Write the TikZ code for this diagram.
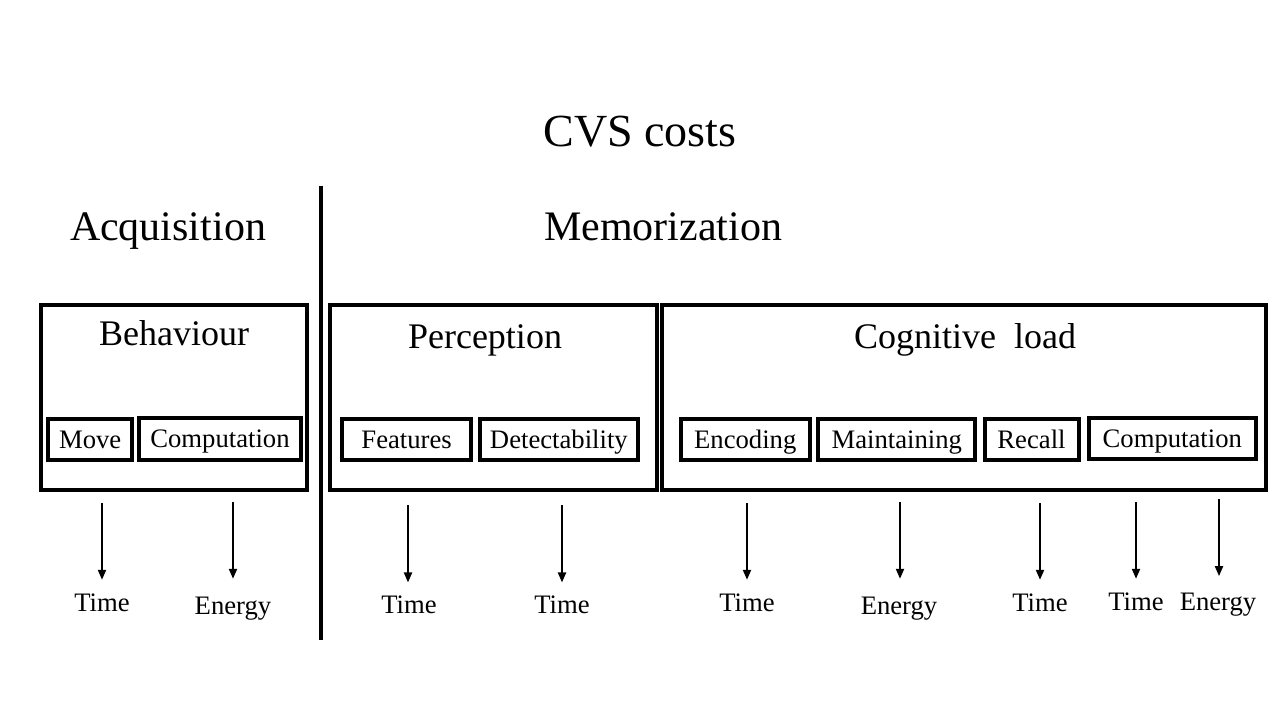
\documentclass[tikz,border=0pt]{standalone}
\usepackage{fontspec}
\setmainfont{Liberation Serif}
\usetikzlibrary{fit,arrows.meta}
\begin{document}
\begin{tikzpicture}[x=0.75pt,y=-0.75pt,
  bigbox/.style={draw,line width=3pt,inner sep=0pt},
  smallbox/.style={draw,line width=3pt,inner sep=0pt,minimum height=31.3pt,
    font=\rmfamily\fontsize{20}{24}\selectfont,text height=13.2pt,text depth=0pt},
  titletext/.style={anchor=base,inner sep=0pt,font=\rmfamily\fontsize{34.5}{40}\selectfont},
  headtext/.style={anchor=base,inner sep=0pt,font=\rmfamily\fontsize{31.5}{38}\selectfont},
  boxtitle/.style={anchor=base,inner sep=0pt,font=\rmfamily\fontsize{27}{32}\selectfont},
  lab/.style={anchor=base,inner sep=0pt,text height=13.2pt,font=\rmfamily\fontsize{20}{24}\selectfont},
  arr/.style={line width=1.5pt,-{Triangle[length=7.5pt,width=6pt]}},
  divider/.style={line width=2.5pt}]
\useasboundingbox (0,0) rectangle (1280,720);

% titles
\node[titletext] (title) at (640,147) {CVS costs};
\node[headtext] (acq) at (168,241) {Acquisition};
\node[headtext] (mem) at (663,241) {Memorization};

% divider
\coordinate (d1) at (321,186);
\coordinate (d2) at (321,640);
\draw[divider] (d1) -- (d2);

% big boxes
\node[bigbox,fit={(40.5,304.5) (306.5,489.5)}] (beh) {};
\node[bigbox,fit={(329.5,304.5) (656.5,489.5)}] (per) {};
\node[bigbox,fit={(662,304.5) (1266,489.5)}] (cog) {};

\node[boxtitle] (behT) at (174,345) {Behaviour};
\node[boxtitle] (perT) at (485,348) {Perception};
\node[boxtitle] (cogT) at (965,348) {Cognitive\ \ load};

% small boxes
\node[smallbox,minimum width=63.2pt] (move) at (90.15,439.5) {Move};
\node[smallbox,minimum width=121.05pt] (comp1) at (220,438.85) {Computation};
\node[smallbox,minimum width=97pt] (feat) at (406.65,439.6) {Features};
\node[smallbox,minimum width=118.7pt] (det) at (558.85,439.6) {Detectability};
\node[smallbox,minimum width=96.4pt] (enc) at (745.25,439.6) {Encoding};
\node[smallbox,minimum width=118.1pt] (main) at (896.75,439.6) {Maintaining};
\node[smallbox,minimum width=70.5pt] (rec) at (1031.5,439.6) {Recall};
\node[smallbox,minimum width=124.9pt] (comp2) at (1172.25,438.5) {Computation};

% labels
\node[lab] (t1) at (102,611) {Time};
\node[lab] (t2) at (233,614) {Energy};
\node[lab] (t3) at (409,613) {Time};
\node[lab] (t4) at (562,613) {Time};
\node[lab] (t5) at (747,611) {Time};
\node[lab] (t6) at (899,614) {Energy};
\node[lab] (t7) at (1040,611) {Time};
\node[lab] (t8) at (1136,610) {Time};
\node[lab] (t9) at (1218,610) {Energy};

% arrow starts
\coordinate (s1) at (102,503);
\coordinate (s2) at (233,502);
\coordinate (s3) at (408,505);
\coordinate (s4) at (562,505);
\coordinate (s5) at (747,503);
\coordinate (s6) at (900,502);
\coordinate (s7) at (1040,503);
\coordinate (s8) at (1136,502);
\coordinate (s9) at (1219,499);

\draw[arr,shorten >=10pt] (s1) -- (s1 |- t1.north);
\draw[arr,shorten >=13pt] (s2) -- (s2 |- t2.north);
\draw[arr,shorten >=9.5pt] (s3) -- (s3 |- t3.north);
\draw[arr,shorten >=9.5pt] (s4) -- (s4 |- t4.north);
\draw[arr,shorten >=10pt] (s5) -- (s5 |- t5.north);
\draw[arr,shorten >=13pt] (s6) -- (s6 |- t6.north);
\draw[arr,shorten >=10pt] (s7) -- (s7 |- t7.north);
\draw[arr,shorten >=10pt] (s8) -- (s8 |- t8.north);
\draw[arr,shorten >=12pt] (s9) -- (s9 |- t9.north);
\end{tikzpicture}
\end{document}
